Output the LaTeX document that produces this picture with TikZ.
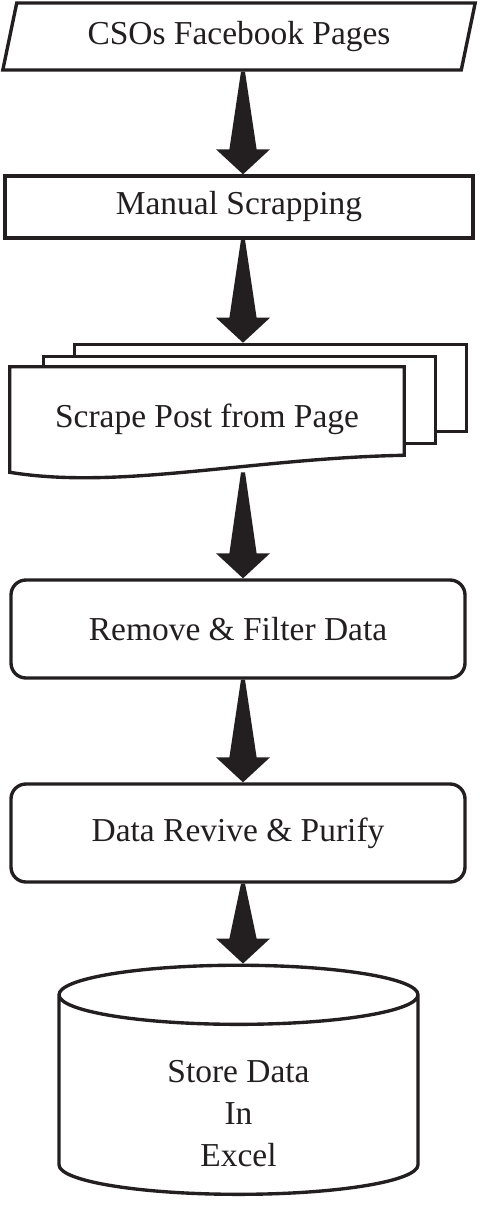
\documentclass[tikz,border=0pt]{standalone}
\usepackage{fontspec}
\setmainfont{Liberation Serif}
\usetikzlibrary{shapes.geometric,calc,backgrounds}
\definecolor{flowink}{HTML}{231F20}
\tikzset{
  bx/.style={draw=flowink, line width=2.4pt, fill=white, align=center, text=flowink, inner sep=2pt},
  io/.style={bx, trapezium, trapezium left angle=75, trapezium right angle=105, trapezium stretches=true},
  proc/.style={bx, rectangle},
  rproc/.style={bx, rectangle, rounded corners=0.375cm},
  sheet/.style={bx, rectangle, minimum width=9.8cm, minimum height=2.175cm, anchor=north west},
  docfront/.style={rectangle, text=flowink, inner sep=2pt},
  db/.style={bx, cylinder, shape border rotate=90, aspect=0.4},
}
% thick tapered arrow, from the foot of #1 to the head of #2
\newcommand{\bigarrow}[2]{%
  \fill[flowink] let \p1=(#1.south -| col), \p2=(#2.north -| col) in
    (\x1-0.05cm,\y1) -- (\x1+0.05cm,\y1) -- (\x1+0.34cm,\y2+0.625cm) -- (\x1+0.675cm,\y2+0.625cm)
    -- (\x1,\y2) -- (\x1-0.675cm,\y2+0.625cm) -- (\x1-0.34cm,\y2+0.625cm) -- cycle;}

\begin{document}
\begin{tikzpicture}[font=\fontsize{23.8}{29.9}\selectfont]
  \useasboundingbox (0,0) rectangle (11.975,-30.2);
  \coordinate (col) at (6.075,0);

  \node[io, minimum width=11.85cm, minimum height=1.675cm] (cso) at (5.975,-0.9125) {CSOs Facebook Pages};
  \node[proc, minimum width=11.7cm, minimum height=1.55cm] (manual) at (5.975,-5.175) {Manual Scrapping};

  % stacked pages
  \node[docfront, minimum width=9.85cm, minimum height=2.625cm] (scrape) at (5.175,-10.4875) {Scrape Post from Page};
  \begin{scope}[on background layer]
    \node[sheet] (pageb) at ($(scrape.north west)+(1.575,0.6)$) {};
    \node[sheet] (pagem) at ($(scrape.north west)+(0.8,0.3)$) {};
    \draw[draw=flowink, line width=2.4pt, fill=white] (scrape.north west) -- (scrape.north east)
      -- ([yshift=0.425cm]scrape.south east) .. controls +(-3.85,-0.075) and +(2.75,-0.45) .. (scrape.south west) -- cycle;
  \end{scope}

  \node[rproc, minimum width=11.35cm, minimum height=2.45cm] (filter) at (5.95,-15.725) {Remove \& Filter Data};
  \node[rproc, minimum width=11.35cm, minimum height=2.45cm] (revive) at (5.95,-20.825) {Data Revive \& Purify};
  \node[db, minimum width=8.975cm, minimum height=5.3cm, text height=3.45cm] (store) at (5.9625,-27.45) {Store Data\\In\\Excel};

  \bigarrow{cso}{manual}
  \bigarrow{manual}{pageb}
  \bigarrow{scrape}{filter}
  \bigarrow{filter}{revive}
  \bigarrow{revive}{store}
\end{tikzpicture}
\end{document}
